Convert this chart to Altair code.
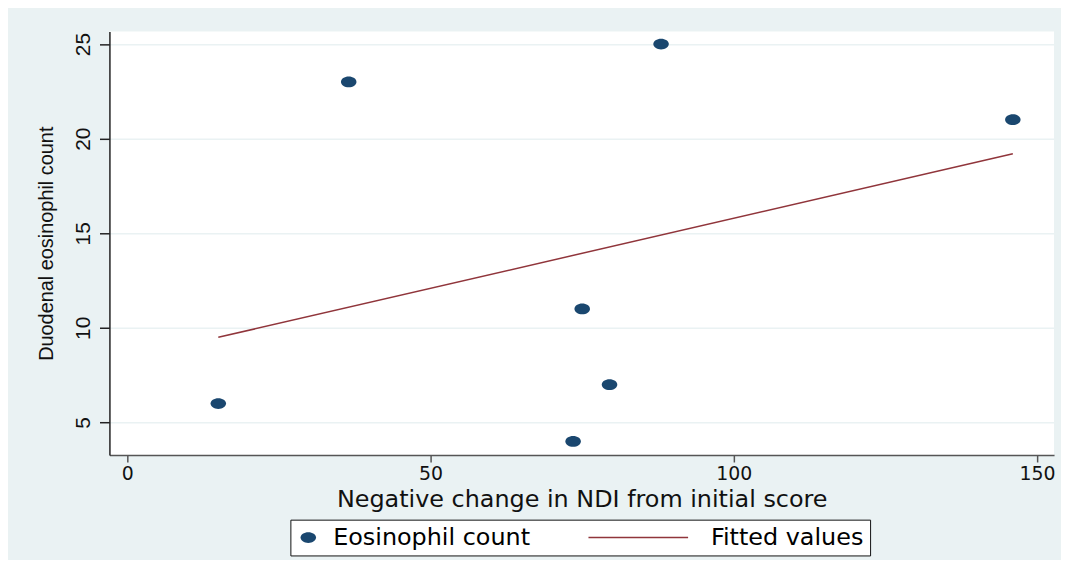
import altair as alt
import pandas as pd

# Data
ndi_change = [15, 36.5, 73.5, 75, 79.5, 88, 146]
eos_count = [6, 23, 4, 11, 7, 25, 21]
fit_x = [15, 146]
fit_y = [9.5, 19.2]
series_names = ["Eosinophil count", "Fitted values"]
series_colors = ["#1a476f", "#90353b"]
x_ticks = [0, 50, 100, 150]
y_ticks = [5, 10, 15, 20, 25]

pts = pd.DataFrame({"x": ndi_change, "y": eos_count, "series": series_names[0]})
fit = pd.DataFrame({"x": fit_x, "y": fit_y})

ellipse = "M-1.3,0A1.3,0.9,0,1,0,1.3,0A1.3,0.9,0,1,0,-1.3,0Z"
line_sym = "M-16.37,-0.125H0.33V0.125H-16.37Z"

x_scale = alt.Scale(domain=[-2.95, 152.79], nice=False, zero=False)
y_scale = alt.Scale(domain=[3.28, 25.667], nice=False, zero=False)

x_axis = alt.Axis(
    values=x_ticks, grid=False, domainColor="#555", domainWidth=1.5,
    tickColor="#555", tickSize=7, tickWidth=1.5, labelFlush=False,
    labelFont="DejaVu Sans", labelFontSize=19, labelPadding=3, labelColor="#111",
    title="Negative change in NDI from initial score",
    titleFont="DejaVu Sans", titleFontSize=24, titleFontWeight="normal",
    titleColor="#111", titleX=475, titleY=52, titleAlign="center",
    titleBaseline="alphabetic",
)
y_axis = alt.Axis(
    values=y_ticks, grid=True, gridColor="#EAF2F3", gridWidth=1.5,
    domainColor="#222", domainWidth=1.5, tickColor="#222", tickSize=10,
    tickWidth=1.5, labelFlush=False, labelAngle=270, labelAlign="center",
    labelBaseline="alphabetic", labelPadding=10, labelFont="Liberation Sans",
    labelFontSize=21, labelColor="#111",
    title="Duodenal eosinophil count", titleAngle=270, titleX=-57, titleY=213,
    titleAlign="center", titleBaseline="alphabetic", titleFont="Liberation Sans",
    titleFontSize=20, titleFontWeight="normal", titleColor="#111",
)

legend = alt.Legend(
    title=None, orient="none", legendX=182, legendY=491, direction="horizontal",
    padding=6, strokeColor="#111", fillColor="white",
    labelFont="DejaVu Sans", labelFontSize=24, labelColor="#000", labelLimit=600,
    labelOffset=13, columnPadding=57, symbolSize=144, symbolStrokeWidth=0,
    symbolOpacity=1,
)

points = alt.Chart(pts).mark_point(filled=True, opacity=1, size=144, strokeWidth=0).encode(
    x=alt.X("x:Q", scale=x_scale, axis=x_axis),
    y=alt.Y("y:Q", scale=y_scale, axis=y_axis),
    color=alt.Color("series:N", scale=alt.Scale(domain=series_names, range=series_colors), legend=legend),
    shape=alt.Shape("series:N", scale=alt.Scale(domain=series_names, range=[ellipse, line_sym]), legend=legend),
)

line = alt.Chart(fit).mark_line(color=series_colors[1], strokeWidth=1.5).encode(
    x=alt.X("x:Q", scale=x_scale),
    y=alt.Y("y:Q", scale=y_scale),
)

chart = alt.layer(points, line).properties(
    width=950, height=426,
    autosize=alt.AutoSizeParams(type="none"),
    padding={"left": 102, "top": 22, "right": 7, "bottom": 104},
    background="#EAF2F3",
).configure_view(fill="white", strokeWidth=0)

chart.save("out.html", embed_options={"renderer": "svg", "actions": False})
